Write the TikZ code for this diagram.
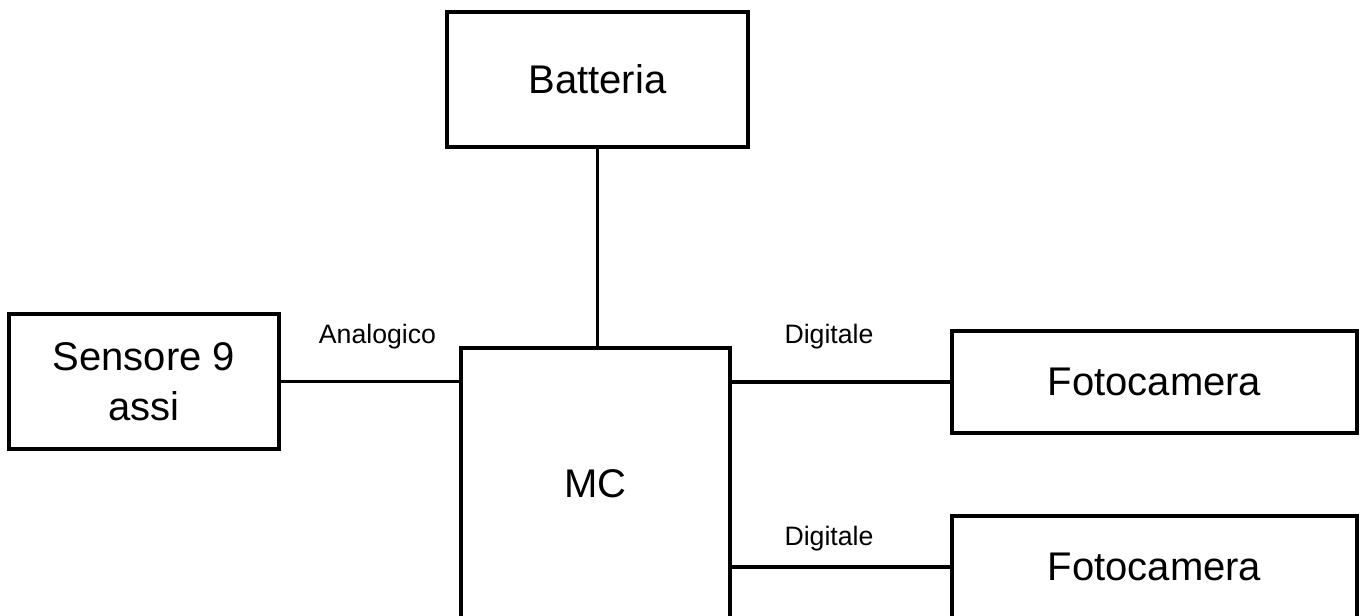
\documentclass[tikz,border=0pt]{standalone}
\usepackage{fontspec}
\setmainfont{Liberation Sans}

\begin{document}
\begin{tikzpicture}[x=0.75pt, y=-0.75pt,
  blocco/.style={draw, line width=2.8pt, inner sep=0pt, align=center, font=\fontsize{30}{37.5}\selectfont},
  etichetta/.style={anchor=base, font=\fontsize{20}{24}\selectfont},
  filo/.style={line width=2.8pt}]
\useasboundingbox (0,0) rectangle (1362,616);
\clip (0,0) rectangle (1362,616);
% Blocchi del sistema
\node[blocco, minimum width=225.75pt, minimum height=101.25pt] (bat) at (597.5,79.5) {Batteria};
\node[blocco, minimum width=202.5pt, minimum height=101.25pt] (sens) at (144,381.5) {Sensore 9\\assi};
\node[blocco, minimum width=201.75pt, minimum height=204pt] (mc) at (595.5,484) {MC};
\node[blocco, minimum width=303.75pt, minimum height=76.5pt] (foto1) at (1154.5,382) {Fotocamera};
\node[blocco, minimum width=303.75pt, minimum height=76.5pt] (foto2) at (1154.5,567) {Fotocamera};

\draw[filo] (bat.south) -- (bat.south |- mc.north);
\draw[filo] (sens.east) -- (sens.east -| mc.west);
\draw[filo] (foto1.west) -- (foto1.west -| mc.east);
\draw[filo] (foto2.west) -- (foto2.west -| mc.east);

\node[etichetta] (lana) at (377.5,343) {Analogico};
\node[etichetta] (ldig1) at (829,343) {Digitale};
\node[etichetta] (ldig2) at (829,545) {Digitale};
\end{tikzpicture}
\end{document}
